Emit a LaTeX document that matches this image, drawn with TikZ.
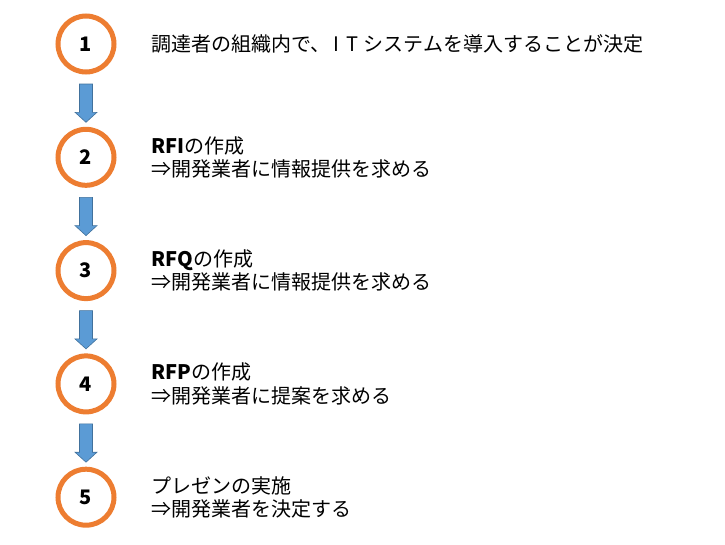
\documentclass[tikz,border=0pt]{standalone}
\usepackage{fontspec}
\setmainfont{Noto Sans CJK JP}
\usetikzlibrary{positioning,calc}

\definecolor{steporange}{HTML}{ED7D31}
\definecolor{stepblue}{HTML}{5B9BD5}
\definecolor{stepblueedge}{HTML}{41719C}

\tikzset{
  stepcircle/.style={circle, draw=steporange, line width=5pt, minimum size=56pt, inner sep=0pt,
    font=\fontsize{20}{20}\selectfont\bfseries},
  steptext/.style={right=35pt of #1, inner sep=0pt, align=left, anchor=west,
    font=\fontsize{20}{23.5}\selectfont},
  flowarrow/.style={fill=stepblue, draw=stepblueedge, line width=0.6pt}
}

\newcommand{\stepflow}[2]{%
  \draw[flowarrow] ($(#1.south)+(-6.5,9.5)$) -- ($(#2.north)+(-6.5,-14.5)$)
    -- ($(#2.north)+(-11,-14.5)$) -- ($(#2.north)+(0,-4.5)$)
    -- ($(#2.north)+(11,-14.5)$) -- ($(#2.north)+(6.5,-14.5)$)
    -- ($(#1.south)+(6.5,9.5)$) -- cycle;}

\begin{document}
\begin{tikzpicture}[x=1pt, y=-1pt]
\def\stepx{86}

\useasboundingbox (0, 0) rectangle (725, 544);

\node [stepcircle] (c1) at (\stepx, 44) {1};
\node [stepcircle] (c2) at (\stepx, 157.3) {2};
\node [stepcircle] (c3) at (\stepx, 270.6) {3};
\node [stepcircle] (c4) at (\stepx, 383.9) {4};
\node [stepcircle] (c5) at (\stepx, 497.2) {5};

% wider spacing round the latin letters, as in the original font
\node [steptext=c1] (t1) {調達者の組織内で、\kern3pt I\kern7pt T\kern5pt システムを導入することが決定};
\node [steptext=c2] (t2) {\textbf{RFI}の作成\\⇒開発業者に情報提供を求める};
\node [steptext=c3] (t3) {\textbf{RFQ}の作成\\⇒開発業者に情報提供を求める};
\node [steptext=c4] (t4) {\textbf{RFP}の作成\\⇒開発業者に提案を求める};
\node [steptext=c5] (t5) {プレゼンの実施\\⇒開発業者を決定する};

\stepflow{c1}{c2}
\stepflow{c2}{c3}
\stepflow{c3}{c4}
\stepflow{c4}{c5}

\end{tikzpicture}
\end{document}
